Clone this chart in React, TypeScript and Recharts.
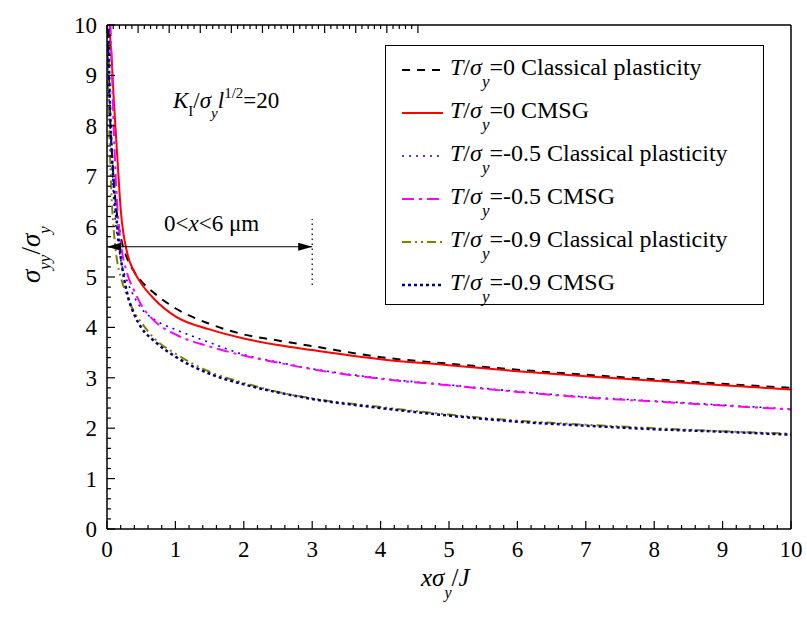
import { Customized, Legend, Line, LineChart, ReferenceLine, XAxis, YAxis } from "recharts";

const xs = [0.01, 0.02, 0.04, 0.07, 0.1, 0.15, 0.2, 0.3, 0.4, 0.5, 0.7, 1, 1.5, 2, 2.5, 3, 4, 5, 6, 7, 8, 9, 10];
const t0Classical = [10.8, 9.5, 8.4, 7.5, 6.9, 6.2, 5.8, 5.35, 5.1, 4.92, 4.67, 4.38, 4.07, 3.86, 3.74, 3.63, 3.41, 3.28, 3.16, 3.06, 2.97, 2.88, 2.8];
const t0Cmsg = [13, 12, 10.0, 9.3, 8.5, 7.4, 6.35, 5.45, 5.1, 4.87, 4.55, 4.22, 3.96, 3.78, 3.65, 3.55, 3.37, 3.25, 3.13, 3.03, 2.94, 2.85, 2.77];
const t05Classical = [10.2, 9.1, 8.2, 7.4, 6.5, 5.8, 5.35, 4.9, 4.6, 4.38, 4.15, 3.96, 3.7, 3.46, 3.31, 3.18, 2.99, 2.86, 2.73, 2.62, 2.54, 2.46, 2.38];
const t05Cmsg = [12.5, 11.5, 10.5, 9.2, 7.9, 6.4, 5.7, 5.05, 4.72, 4.45, 4.12, 3.86, 3.62, 3.44, 3.3, 3.17, 2.98, 2.85, 2.72, 2.61, 2.53, 2.45, 2.37];
const t09Classical = [9.4, 8.6, 7.6, 6.5, 5.9, 5.3, 5.0, 4.6, 4.3, 4.1, 3.77, 3.48, 3.12, 2.9, 2.72, 2.59, 2.42, 2.27, 2.15, 2.07, 2.0, 1.94, 1.89];
const t09Cmsg = [11, 10, 8.6, 7.5, 6.8, 6.0, 5.4, 4.65, 4.25, 4.0, 3.72, 3.42, 3.08, 2.87, 2.71, 2.58, 2.4, 2.25, 2.13, 2.05, 1.98, 1.93, 1.87];

// every 0.2, labels only on whole numbers
const axisTicks = Array.from({ length: 51 }, (_, i) => i / 5);

const series = [
  { key: "t0c", ratio: "0", model: "Classical plasticity", color: "#000000", dash: "8 7", width: 2 },
  { key: "t0m", ratio: "0", model: "CMSG", color: "#ff0000", dash: undefined, width: 2 },
  { key: "t05c", ratio: "-0.5", model: "Classical plasticity", color: "#0000ff", dash: "2 5", width: 1.6 },
  { key: "t05m", ratio: "-0.5", model: "CMSG", color: "#ff00ff", dash: "12 5 3 5", width: 2 },
  { key: "t09c", ratio: "-0.9", model: "Classical plasticity", color: "#808000", dash: "9 4 2 4 2 4", width: 2 },
  { key: "t09m", ratio: "-0.9", model: "CMSG", color: "#000080", dash: "3 3", width: 2.5 },
];

const rows = xs.map((x, i) => ({
  x,
  t0c: t0Classical[i],
  t0m: t0Cmsg[i],
  t05c: t05Classical[i],
  t05m: t05Cmsg[i],
  t09c: t09Classical[i],
  t09m: t09Cmsg[i],
}));

const font = "'Liberation Serif', 'Times New Roman', 'DejaVu Serif', serif";

function AxisTick(props: any) {
  const { x, y, payload, side } = props;
  const v = payload.value;
  const major = Math.abs(v - Math.round(v)) < 1e-6;
  const len = major ? 8 : 4;
  let line = null;
  if (side === "bottom") line = <line x1={x} y1={y} x2={x} y2={y - len} stroke="#000" strokeWidth={1.2} />;
  if (side === "top") line = <line x1={x} y1={y} x2={x} y2={y + len} stroke="#000" strokeWidth={1.2} />;
  if (side === "left") line = <line x1={x} y1={y} x2={x + len} y2={y} stroke="#000" strokeWidth={1.2} />;
  if (side === "right") line = <line x1={x} y1={y} x2={x - len} y2={y} stroke="#000" strokeWidth={1.2} />;
  let label = null;
  if (major && side === "bottom")
    label = (
      <text x={x} y={y + 28} textAnchor="middle" fontFamily={font} fontSize={23} fill="#000">
        {Math.round(v)}
      </text>
    );
  if (major && side === "left")
    label = (
      <text x={x - 10} y={y + 8} textAnchor="end" fontFamily={font} fontSize={23} fill="#000">
        {Math.round(v)}
      </text>
    );
  return (
    <g>
      {line}
      {label}
    </g>
  );
}

function LegendBox() {
  return (
    <div
      style={{
        border: "1px solid #000",
        background: "#fff",
        width: 379,
        height: 260,
        boxSizing: "border-box",
        paddingTop: 4,
        fontFamily: font,
        fontSize: 24,
        color: "#000",
      }}
    >
      {series.map((s) => (
        <div key={s.key} style={{ display: "flex", alignItems: "center", height: 43, whiteSpace: "nowrap" }}>
          <svg width={64} height={20} style={{ flex: "none" }}>
            <line x1={16} y1={8} x2={57} y2={8} stroke={s.color} strokeWidth={s.width} strokeDasharray={s.dash} />
          </svg>
          <span style={{ position: "relative", top: -4 }}>
            <i>T</i>/<i>σ</i>
            <i style={{ fontSize: 17, position: "relative", top: 12 }}>y</i>={s.ratio} {s.model}
          </span>
        </div>
      ))}
    </div>
  );
}

function Titles() {
  return (
    <g fontFamily={font} fill="#000">
      <text x={421} y={586} fontSize={25}>
        <tspan fontStyle="italic">xσ</tspan>
        <tspan fontStyle="italic" fontSize={16} dy={12}>y</tspan>
        <tspan dy={-12}>/</tspan>
        <tspan fontStyle="italic">J</tspan>
      </text>
      <text transform="translate(40 283) rotate(-90)" fontSize={27}>
        <tspan fontStyle="italic">σ</tspan>
        <tspan fontStyle="italic" fontSize={17} dy={10}>yy</tspan>
        <tspan dy={-10} fontSize={27}>/</tspan>
        <tspan fontStyle="italic">σ</tspan>
        <tspan fontStyle="italic" fontSize={17} dy={10}>y</tspan>
      </text>
      <text x={173} y={108} fontSize={23}>
        <tspan fontStyle="italic">K</tspan>
        <tspan fontSize={15} dy={8}>I</tspan>
        <tspan dy={-8}>/</tspan>
        <tspan fontStyle="italic">σ</tspan>
        <tspan fontStyle="italic" fontSize={15} dy={10}>y</tspan>
        <tspan fontStyle="italic" dy={-10}>l</tspan>
        <tspan fontSize={15} dy={-10}>1/2</tspan>
        <tspan dy={10}>=20</tspan>
      </text>
      <text x={164} y={231} fontSize={23}>
        0&lt;<tspan fontStyle="italic">x</tspan>&lt;6 μm
      </text>
    </g>
  );
}

function Arrow(props: any) {
  const { x1, y1, x2, y2 } = props;
  return (
    <g>
      <line x1={x1} y1={y1} x2={x2} y2={y2} stroke="#000" strokeWidth={1.2} />
      <polygon points={`${x1},${y1} ${x1 + 14},${y1 - 4} ${x1 + 14},${y1 + 4}`} fill="#000" />
      <polygon points={`${x2},${y2} ${x2 - 14},${y2 - 4} ${x2 - 14},${y2 + 4}`} fill="#000" />
    </g>
  );
}

const frame = { stroke: "#000", strokeWidth: 1.5 };

export default function App() {
  return (
    <div style={{ position: "absolute", left: 0, top: 0, background: "#fff" }}>
      <LineChart width={807} height={628} data={rows} margin={{ top: 24, right: 15, bottom: 98, left: 106 }}>
        <XAxis
          dataKey="x"
          type="number"
          domain={[0, 10]}
          ticks={axisTicks}
          interval={0}
          allowDataOverflow
          height={1}
          tickSize={0}
          tickMargin={0}
          tickLine={false}
          tick={<AxisTick side="bottom" />}
          axisLine={frame}
        />
        <XAxis
          xAxisId="top"
          orientation="top"
          type="number"
          domain={[0, 10]}
          ticks={axisTicks}
          interval={0}
          height={1}
          tickSize={0}
          tickMargin={0}
          tickLine={false}
          tick={<AxisTick side="top" />}
          axisLine={frame}
        />
        <YAxis
          type="number"
          domain={[0, 10]}
          ticks={axisTicks}
          interval={0}
          allowDataOverflow
          width={1}
          tickSize={0}
          tickMargin={0}
          tickLine={false}
          tick={<AxisTick side="left" />}
          axisLine={frame}
        />
        <YAxis
          yAxisId="right"
          orientation="right"
          type="number"
          domain={[0, 10]}
          ticks={axisTicks}
          interval={0}
          width={1}
          tickSize={0}
          tickMargin={0}
          tickLine={false}
          tick={<AxisTick side="right" />}
          axisLine={frame}
        />
        {series.map((s) => (
          <Line
            key={s.key}
            dataKey={s.key}
            type="monotone"
            stroke={s.color}
            strokeWidth={s.width}
            strokeDasharray={s.dash}
            dot={false}
            activeDot={false}
            isAnimationActive={false}
          />
        ))}
        <ReferenceLine segment={[{ x: 0, y: 5.6 }, { x: 3, y: 5.6 }]} shape={Arrow} />
        <ReferenceLine segment={[{ x: 3, y: 4.84 }, { x: 3, y: 6.15 }]} stroke="#000" strokeWidth={1.2} strokeDasharray="1.5 3.5" />
        <Customized component={Titles} />
        <Legend
          layout="vertical"
          align="center"
          verticalAlign="middle"
          content={LegendBox}
          wrapperStyle={{ left: 385, top: 45, width: 380 }}
        />
      </LineChart>
    </div>
  );
}
